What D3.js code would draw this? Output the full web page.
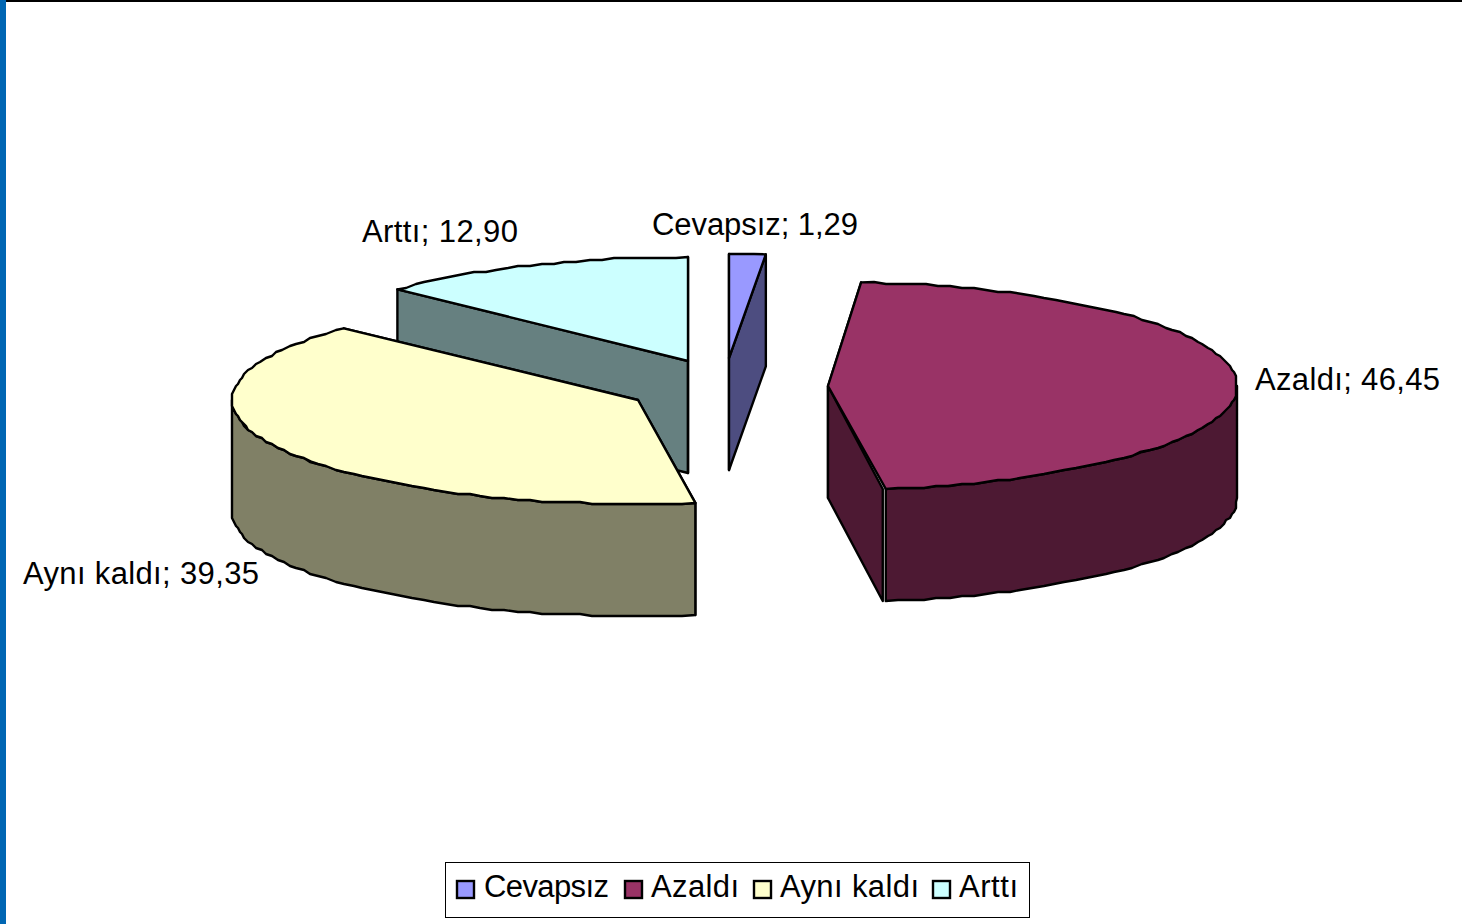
<!DOCTYPE html>
<html><head><meta charset="utf-8">
<script src="https://cdn.jsdelivr.net/npm/d3@7"></script>
<style>html,body{margin:0;padding:0;background:#fff;overflow:hidden}svg{display:block}text{font-family:"Liberation Sans",Arial,sans-serif;fill:#000}</style>
</head><body><svg id="c" width="1462" height="924"></svg>
<script>
const categories = ["Cevapsız","Azaldı","Aynı kaldı","Arttı"];
const values = [1.29,46.45,39.35,12.90];
const valueLabels = ["1,29","46,45","39,35","12,90"];
const topColors = ["#9999ff","#993366","#ffffcc","#ccffff"];
const sideColors = ["#4d4d80","#4d1933","#808066","#668080"];

const W=1462,H=924, RY=104, DEPTH=112, STEP=2, ANGLE_STEP=0.032;
const radiiX = [455,409,406,401];
const apex = [[729,358],[828,386],[638,400],[688,361]];
const labelPos = [[652,235],[1255,390],[23,584],[362,242]];
const labelWidth = [206,185,236,156];
const wallGap = [0,3,0,0];
const drawOrder = [3,0,2,1];

const svg = d3.select("#c");
svg.append("rect").attr("x",0).attr("y",0).attr("width",W).attr("height",2).attr("fill","#000");
svg.append("rect").attr("x",0).attr("y",0).attr("width",6).attr("height",H).attr("fill","#0066b3");

const pie = d3.pie().sort(null).value(d=>d).startAngle(0).endAngle(2*Math.PI);
const arcs = pie(values);
const sx = radiiX.map(r=>d3.scaleLinear().domain([-1,1]).range([-r,r]));
const sy = d3.scaleLinear().domain([-1,1]).range([-RY,RY]);
const line = d3.line();
const snap = v => Math.round(v/STEP)*STEP;
function rim(i,a0,a1){
  const n = Math.max(1,Math.ceil((a1-a0)/ANGLE_STEP)), pts=[];
  let last=null;
  for(let k=0;k<=n;k++){
    const a=a0+(a1-a0)*k/n;
    const p=[apex[i][0]+sx[i](Math.sin(a)),apex[i][1]+sy(-Math.cos(a))];
    const s=(k===0||k===n)?p:[snap(p[0]),snap(p[1])];
    if(!last||s[0]!==last[0]||s[1]!==last[1]){pts.push(s);last=s;}
  }
  return pts;
}
const down = p=>[p[0],p[1]+DEPTH];
const stroke = {stroke:"#000","stroke-width":2.4,"stroke-linejoin":"round"};
function poly(pts,fill){
  const el=svg.append("path").attr("d",line(pts)+"Z").attr("fill",fill);
  Object.entries(stroke).forEach(([k,v])=>el.attr(k,v));
}
drawOrder.forEach(i=>{
  const a=arcs[i], A=apex[i];
  const r=rim(i,a.startAngle,a.endAngle), s=r[0], e=r[r.length-1];
  const eWall=[e[0]-wallGap[i],e[1]];
  poly([A,s,down(s),down(A)],sideColors[i]);
  poly([A,eWall,down(eWall),down(A)],sideColors[i]);
  const f0=Math.max(a.startAngle,Math.PI/2), f1=Math.min(a.endAngle,3*Math.PI/2);
  if(f1>f0){
    const f=rim(i,f0,f1);
    poly(f.concat(f.map(down).reverse()),sideColors[i]);
  }
  poly([A].concat(r),topColors[i]);
});
categories.forEach((c,i)=>{
  svg.append("text").attr("x",labelPos[i][0]).attr("y",labelPos[i][1]).attr("font-size",31)
    .attr("textLength",labelWidth[i]).attr("lengthAdjust","spacing")
    .text(c+"; "+valueLabels[i]);
});
svg.append("rect").attr("x",445.5).attr("y",862.5).attr("width",584).attr("height",55).attr("fill","#fff").attr("stroke","#000").attr("stroke-width",1);
const legendX=[456,624,753,932];
const legendTextX=[484,651,780,959];
const legendWidth=[125,88,139,59];
categories.forEach((c,i)=>{
  svg.append("rect").attr("x",legendX[i]+1).attr("y",881).attr("width",17).attr("height",17)
    .attr("fill",topColors[i]).attr("stroke","#000").attr("stroke-width",2.4);
  svg.append("text").attr("x",legendTextX[i]).attr("y",897).attr("font-size",31)
    .attr("textLength",legendWidth[i]).attr("lengthAdjust","spacing").text(c);
});
</script></body></html>
